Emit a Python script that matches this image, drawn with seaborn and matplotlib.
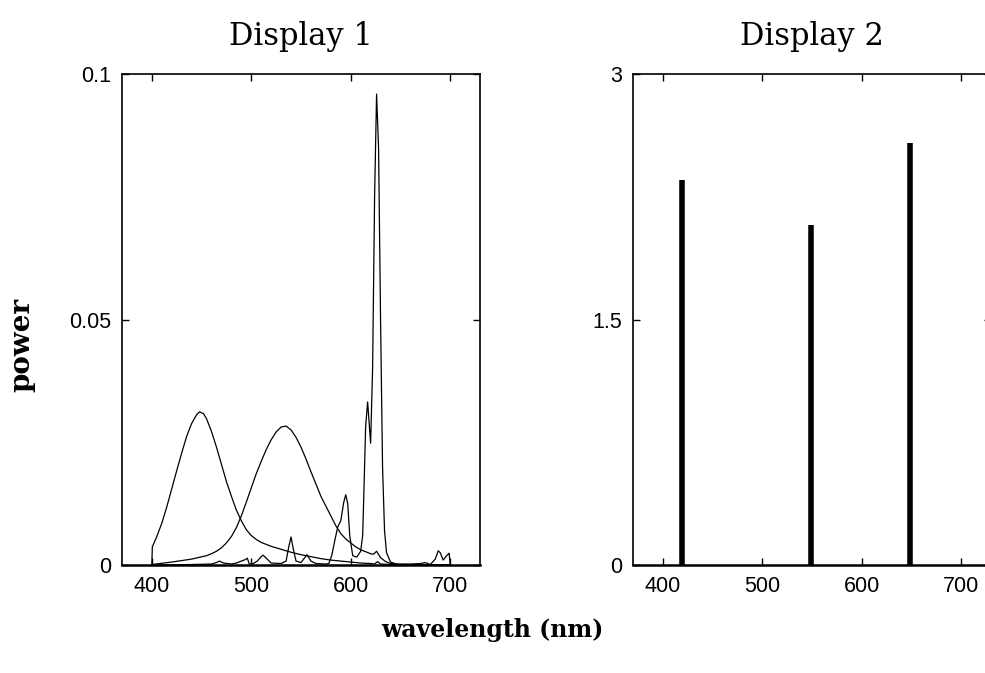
import matplotlib
matplotlib.use("Agg")
import matplotlib.pyplot as plt
import numpy as np
import pandas as pd
import seaborn as sns

# Display 1: three phosphor spectra
blue_wl = [400, 400.5, 405, 410, 415, 420, 425, 430, 435, 440, 445, 448, 452, 455, 460,
           465, 470, 475, 480, 485, 490, 495, 500, 505, 510, 520, 530, 540, 550,
           560, 570, 580, 590, 600, 610, 620, 624, 627, 630, 640, 650, 700]
blue_pw = [0.0, 0.0037, 0.0058, 0.0085, 0.0118, 0.0155, 0.0192, 0.0228, 0.0262, 0.0288,
           0.0306, 0.0312, 0.0308, 0.0298, 0.0272, 0.0240, 0.0205, 0.0170, 0.0140,
           0.0112, 0.0090, 0.0072, 0.0060, 0.0052, 0.0046, 0.0038, 0.0032, 0.0026,
           0.0021, 0.0017, 0.0013, 0.0010, 0.0008, 0.0006, 0.0004, 0.0003, 0.0002,
           0.0007, 0.0002, 0.0001, 0.0, 0.0]

green_wl = [400, 420, 440, 455, 460, 465, 470, 475, 480, 485, 490, 495, 500, 505, 510,
            515, 520, 525, 530, 535, 540, 545, 550, 555, 560, 565, 570, 575, 580, 585,
            590, 595, 600, 605, 610, 615, 620, 623, 626, 630, 635, 640, 650, 700]
green_pw = [0.0001, 0.0006, 0.0012, 0.0019, 0.0023, 0.0028, 0.0035, 0.0045, 0.0058,
            0.0076, 0.0100, 0.0128, 0.0157, 0.0186, 0.0211, 0.0235, 0.0255, 0.0271,
            0.0281, 0.0283, 0.0275, 0.0260, 0.0240, 0.0216, 0.0190, 0.0165, 0.0140,
            0.0120, 0.0100, 0.0080, 0.0064, 0.0053, 0.0045, 0.0037, 0.0031, 0.0027,
            0.0023, 0.0022, 0.0028, 0.0015, 0.0007, 0.0003, 0.0001, 0.0]

red_wl = [400, 440, 460, 465, 468, 472, 480, 485, 490, 494, 496, 498, 502, 506, 510,
          512, 515, 520, 530, 535, 538, 540, 542, 545, 550, 553, 556, 560, 565, 575,
          578, 581, 584, 587, 590, 593, 595, 597, 599, 602, 606, 610, 612, 613, 615,
          617, 620, 622, 624, 626, 628, 630, 632, 634, 636, 640, 646, 660, 670, 675,
          680, 685, 688, 690, 693, 696, 699, 700]
red_pw = [0.0, 0.0001, 0.0002, 0.0005, 0.0008, 0.0004, 0.0002, 0.0004, 0.0008, 0.0011,
          0.0014, 0.0002, 0.0003, 0.0008, 0.0017, 0.0020, 0.0014, 0.0004, 0.0003,
          0.0008, 0.0040, 0.0057, 0.0035, 0.0008, 0.0005, 0.0013, 0.0021, 0.0008,
          0.0003, 0.0002, 0.0003, 0.0020, 0.0050, 0.0078, 0.0090, 0.0128, 0.0143,
          0.0125, 0.0060, 0.0019, 0.0016, 0.0028, 0.0060, 0.0130, 0.0282, 0.0332,
          0.0248, 0.0400, 0.0750, 0.0959, 0.0850, 0.0500, 0.0200, 0.0070, 0.0025,
          0.0006, 0.0002, 0.0002, 0.0003, 0.0005, 0.0001, 0.0012, 0.0029, 0.0025,
          0.0010, 0.0018, 0.0024, 0.0]

# Display 2: three narrow-band primaries
d2_wl = [419, 549, 649]
d2_pw = [2.35, 2.08, 2.58]

x_ticks = [400, 500, 600, 700]
y1_ticks = [0, 0.05, 0.1]
y1_labels = ["0", "0.05", "0.1"]
y2_ticks = [0, 1.5, 3]
y2_labels = ["0", "1.5", "3"]

sns.set_theme(style="ticks")
plt.rcParams["font.family"] = ["Liberation Sans", "DejaVu Sans"]
plt.rcParams["text.color"] = "black"
plt.rcParams["axes.labelcolor"] = "black"
plt.rcParams["xtick.color"] = "black"
plt.rcParams["ytick.color"] = "black"
plt.rcParams["axes.linewidth"] = 1.2
plt.rcParams["xtick.direction"] = "in"
plt.rcParams["ytick.direction"] = "in"
plt.rcParams["xtick.top"] = True
plt.rcParams["ytick.right"] = True

fig = plt.figure(figsize=(9.85, 6.73), dpi=100)
ax1 = fig.add_axes([122 / 985, 108 / 673, 358 / 985, 491 / 673])
ax2 = fig.add_axes([633 / 985, 108 / 673, 358 / 985, 491 / 673])

for wl, pw in [(blue_wl, blue_pw), (green_wl, green_pw), (red_wl, red_pw)]:
    sns.lineplot(x=wl, y=pw, ax=ax1, color="black", linewidth=0.9,
                 sort=False, estimator=None)

ax2.vlines(d2_wl, 0, d2_pw, color="black", linewidth=4)

for ax, title, yt, yl, ymax in [(ax1, "Display 1", y1_ticks, y1_labels, 0.1),
                                (ax2, "Display 2", y2_ticks, y2_labels, 3)]:
    ax.set_xlim(370, 730)
    ax.set_ylim(0, ymax)
    ax.set_xticks(x_ticks)
    ax.set_xticklabels([str(t) for t in x_ticks])
    ax.set_yticks(yt)
    ax.set_yticklabels(yl)
    ax.tick_params(axis="both", labelsize=15.5, length=5, width=1, pad=8)
    ax.set_title(title, pad=21, family="DejaVu Serif", fontsize=22, color="black")
    for s in ax.spines.values():
        s.set_color("black")
    ax.spines["bottom"].set_linewidth(1.8)

fig.text(22 / 985, 0.487, "power", rotation=90, ha="center", va="center",
         family="DejaVu Serif", fontsize=20, fontweight="bold")
fig.text(0.5, 43 / 673, "wavelength (nm)", ha="center", va="center",
         family="DejaVu Serif", fontsize=17, fontweight="bold")

fig.savefig("out.png", dpi=100)
